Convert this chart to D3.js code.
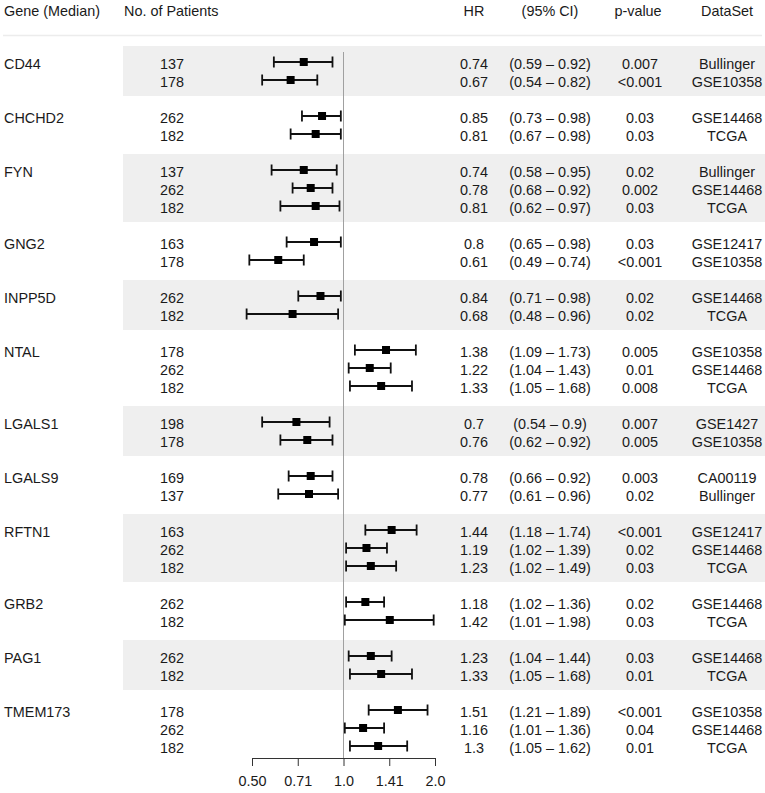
<!DOCTYPE html>
<html>
<head>
<meta charset="utf-8">
<script src="https://cdn.jsdelivr.net/npm/d3@7"></script>
<style>
  body { margin: 0; background: #fff; }
  svg text { font-family: "Liberation Sans", Arial, Helvetica, sans-serif; font-size: 14.4px; fill: #1a1a1a; }
</style>
</head>
<body>
<svg id="chart" width="765" height="793"></svg>
<script>
// ---- data ----
const genes = ["CD44","CHCHD2","FYN","GNG2","INPP5D","NTAL","LGALS1","LGALS9","RFTN1","GRB2","PAG1","TMEM173"];
const rowGene = ["CD44","CD44","CHCHD2","CHCHD2","FYN","FYN","FYN","GNG2","GNG2","INPP5D","INPP5D",
  "NTAL","NTAL","NTAL","LGALS1","LGALS1","LGALS9","LGALS9","RFTN1","RFTN1","RFTN1","GRB2","GRB2",
  "PAG1","PAG1","TMEM173","TMEM173","TMEM173"];
const patients = [137,178,262,182,137,262,182,163,178,262,182,178,262,182,198,178,169,137,163,262,182,262,182,262,182,178,262,182];
const hr =    [0.74,0.67,0.85,0.81,0.74,0.78,0.81,0.8,0.61,0.84,0.68,1.38,1.22,1.33,0.7,0.76,0.78,0.77,1.44,1.19,1.23,1.18,1.42,1.23,1.33,1.51,1.16,1.3];
const lower = [0.59,0.54,0.73,0.67,0.58,0.68,0.62,0.65,0.49,0.71,0.48,1.09,1.04,1.05,0.54,0.62,0.66,0.61,1.18,1.02,1.02,1.02,1.01,1.04,1.05,1.21,1.01,1.05];
const upper = [0.92,0.82,0.98,0.98,0.95,0.92,0.97,0.98,0.74,0.98,0.96,1.73,1.43,1.68,0.9,0.92,0.92,0.96,1.74,1.39,1.49,1.36,1.98,1.44,1.68,1.89,1.36,1.62];
const pvalue = ["0.007","<0.001","0.03","0.03","0.02","0.002","0.03","0.03","<0.001","0.02","0.02",
  "0.005","0.01","0.008","0.007","0.005","0.003","0.02","<0.001","0.02","0.03","0.02","0.03",
  "0.03","0.01","<0.001","0.04","0.01"];
const dataset = ["Bullinger","GSE10358","GSE14468","TCGA","Bullinger","GSE14468","TCGA","GSE12417","GSE10358",
  "GSE14468","TCGA","GSE10358","GSE14468","TCGA","GSE1427","GSE10358","CA00119","Bullinger",
  "GSE12417","GSE14468","TCGA","GSE14468","TCGA","GSE14468","TCGA","GSE10358","GSE14468","TCGA"];
const tickValues = [0.5, Math.SQRT1_2, 1, Math.SQRT2, 2];
const tickLabels = ["0.50","0.71","1.0","1.41","2.0"];
const headers = ["Gene (Median)","No. of Patients","HR","(95% CI)","p-value","DataSet"];

// ---- layout ----
const svg = d3.select("#chart");
const x = d3.scaleLog().base(2).domain([0.5, 2]).range([252, 435]);

const slots = [];
let slot = 0;
const groups = [];
genes.forEach((g, gi) => {
  const idx = rowGene.map((r, i) => r === g ? i : -1).filter(i => i >= 0);
  const start = slot;
  idx.forEach(i => { slots[i] = slot; slot++; });
  groups.push({gene: g, first: start, last: slot - 1, gi});
  slot++;
});
const y = d3.scaleLinear().domain([0, slot - 2]).range([62, 746]);

// bands
svg.append("g").selectAll("rect").data(groups.filter(d => d.gi % 2 === 0)).join("rect")
  .attr("x", 123).attr("width", 765 - 123)
  .attr("y", d => y(d.first) - 16)
  .attr("height", d => y(d.last) - y(d.first) + 32)
  .attr("fill", "#efefef");

// header
const hdrX = [4, 124, 474, 550, 638, 727];
const hdrAnchor = ["start","start","middle","middle","middle","middle"];
svg.append("g").selectAll("text").data(headers).join("text")
  .attr("x", (d, i) => hdrX[i]).attr("y", 11).attr("dy", "0.35em")
  .attr("text-anchor", (d, i) => hdrAnchor[i]).text(d => d);
svg.append("line").attr("x1", 3).attr("x2", 762).attr("y1", 35.5).attr("y2", 35.5)
  .attr("stroke", "#ececec").attr("stroke-width", 1.5);

// gene labels
svg.append("g").selectAll("text").data(groups).join("text")
  .attr("x", 4).attr("y", d => y(d.first) + 1.5).attr("dy", "0.35em").text(d => d.gene);

// reference line
svg.append("line").attr("x1", x(1)).attr("x2", x(1)).attr("y1", 52).attr("y2", 758)
  .attr("stroke", "#a0a0a0").attr("stroke-width", 1);

// text columns
const rowsIdx = d3.range(rowGene.length);
const cols = [
  {x: 172, f: i => patients[i]},
  {x: 474, f: i => String(hr[i])},
  {x: 550, f: i => `(${lower[i]} \u2013 ${upper[i]})`},
  {x: 640, f: i => pvalue[i]},
  {x: 727, f: i => dataset[i]}
];
cols.forEach(c => {
  svg.append("g").selectAll("text").data(rowsIdx).join("text")
    .attr("x", c.x).attr("y", i => y(slots[i]) + 1.5).attr("dy", "0.35em")
    .attr("text-anchor", "middle").text(c.f);
});

// CI lines
const ci = svg.append("g").attr("stroke", "#111").attr("stroke-width", 1.8);
ci.selectAll("line.ci").data(rowsIdx).join("line").attr("class", "ci")
  .attr("x1", i => x(lower[i])).attr("x2", i => x(upper[i]))
  .attr("y1", i => y(slots[i])).attr("y2", i => y(slots[i]));
ci.selectAll("line.lc").data(rowsIdx).join("line").attr("class", "lc")
  .attr("x1", i => x(lower[i])).attr("x2", i => x(lower[i]))
  .attr("y1", i => y(slots[i]) - 5.5).attr("y2", i => y(slots[i]) + 5.5);
ci.selectAll("line.uc").data(rowsIdx).join("line").attr("class", "uc")
  .attr("x1", i => x(upper[i])).attr("x2", i => x(upper[i]))
  .attr("y1", i => y(slots[i]) - 5.5).attr("y2", i => y(slots[i]) + 5.5);
svg.append("g").selectAll("rect").data(rowsIdx).join("rect")
  .attr("x", i => x(hr[i]) - 4).attr("y", i => y(slots[i]) - 4)
  .attr("width", 8).attr("height", 8).attr("fill", "#000");

// axis
const axis = d3.axisBottom(x).tickValues(tickValues).tickFormat((d, i) => tickLabels[i])
  .tickSize(8).tickSizeOuter(0).tickPadding(10);
const ag = svg.append("g").attr("transform", "translate(0,758)").call(axis);
ag.select(".domain").attr("stroke", "#333");
ag.selectAll(".tick line").attr("stroke", "#333");
ag.selectAll(".tick text").attr("font-size", 14.4).attr("font-family", "Liberation Sans, Arial, sans-serif").attr("fill", "#1a1a1a");
</script>
</body>
</html>
